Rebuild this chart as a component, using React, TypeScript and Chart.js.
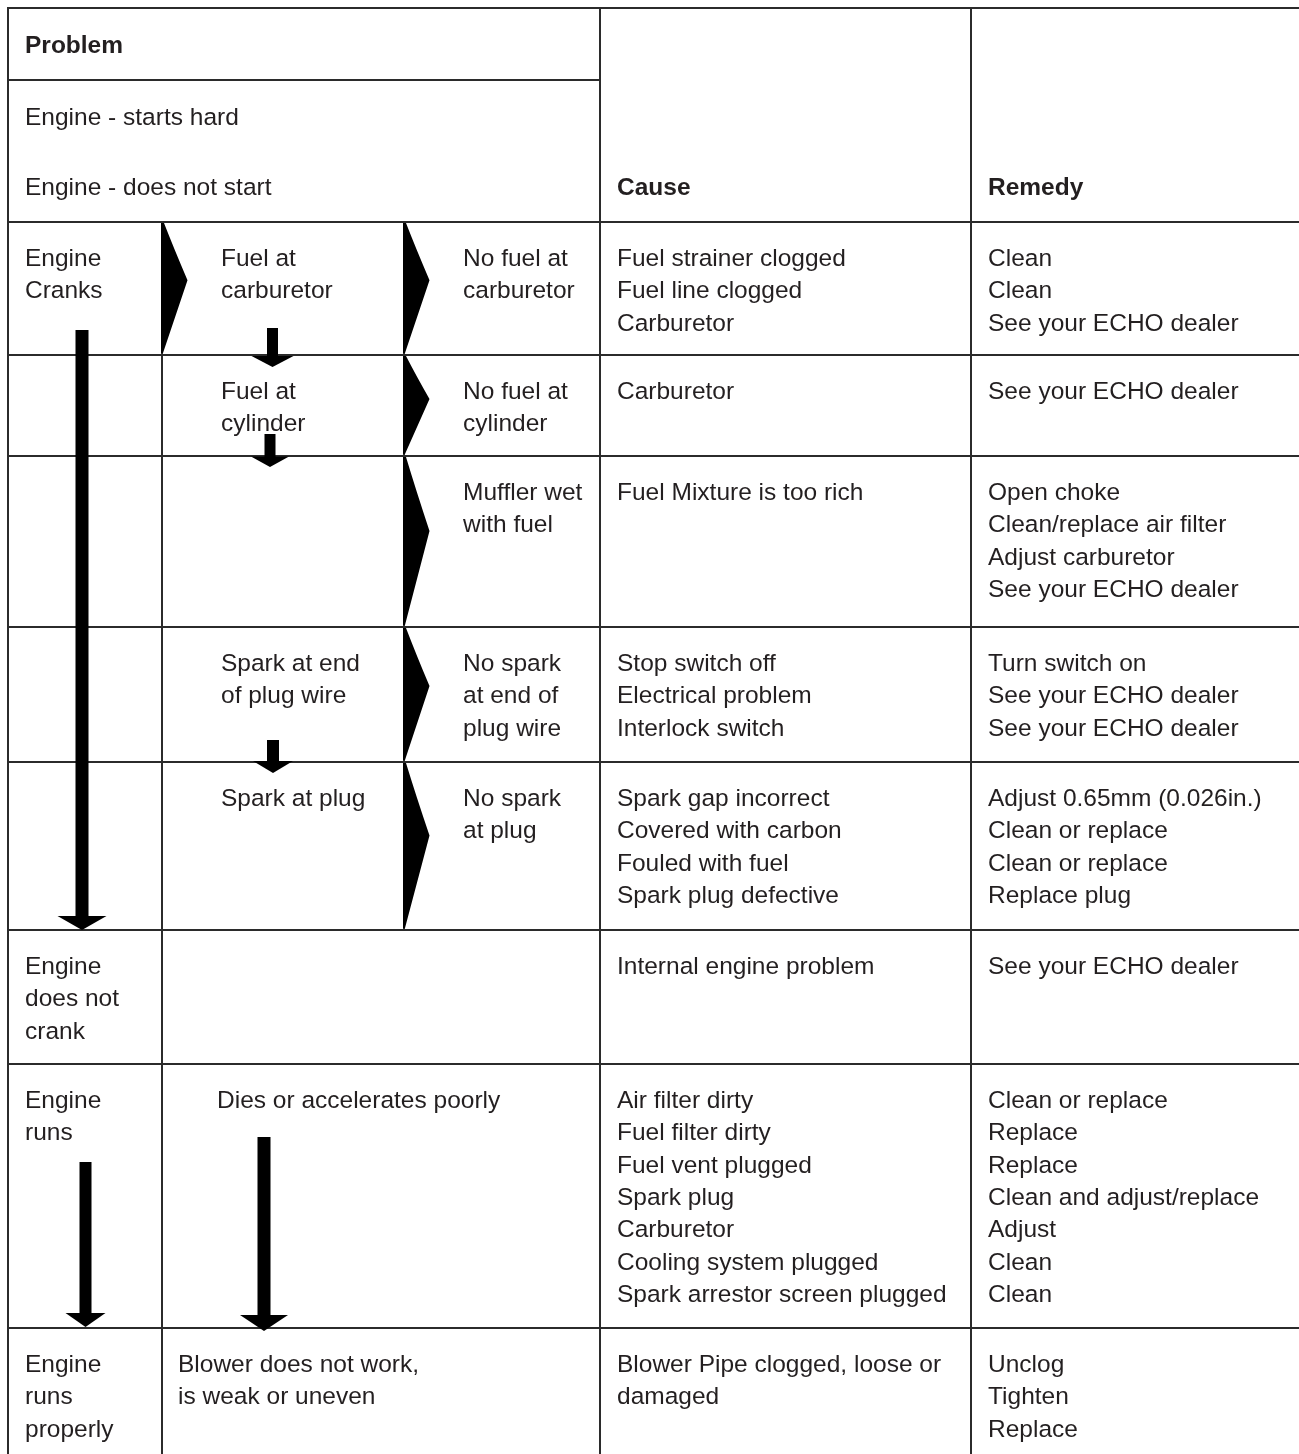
import React, { useEffect, useRef } from "react";
import { Chart, registerables } from "chart.js";

Chart.register(...registerables);

// ---------- data (text content) ----------
const problemHeader = "Problem";
const problemSubheaders = ["Engine - starts hard", "Engine - does not start"];
const causeHeader = "Cause";
const remedyHeader = "Remedy";

const conditions: string[][] = [
  ["Engine", "Cranks"],
  [],
  [],
  [],
  [],
  ["Engine", "does not", "crank"],
  ["Engine", "runs"],
  ["Engine", "runs", "properly"],
];

const checks: string[][] = [
  ["Fuel at", "carburetor"],
  ["Fuel at", "cylinder"],
  [],
  ["Spark at end", "of plug wire"],
  ["Spark at plug"],
  [],
  ["Dies or accelerates poorly"],
  ["Blower does not work,", "is weak or uneven"],
];

const symptoms: string[][] = [
  ["No fuel at", "carburetor"],
  ["No fuel at", "cylinder"],
  ["Muffler wet", "with fuel"],
  ["No spark", "at end of", "plug wire"],
  ["No spark", "at plug"],
  [],
  [],
  [],
];

const causes: string[][] = [
  ["Fuel strainer clogged", "Fuel line clogged", "Carburetor"],
  ["Carburetor"],
  ["Fuel Mixture is too rich"],
  ["Stop switch off", "Electrical problem", "Interlock switch"],
  ["Spark gap incorrect", "Covered with carbon", "Fouled with fuel", "Spark plug defective"],
  ["Internal engine problem"],
  [
    "Air filter dirty",
    "Fuel filter dirty",
    "Fuel vent plugged",
    "Spark plug",
    "Carburetor",
    "Cooling system plugged",
    "Spark arrestor screen plugged",
  ],
  ["Blower Pipe clogged, loose or", "damaged"],
];

const remedies: string[][] = [
  ["Clean", "Clean", "See your ECHO dealer"],
  ["See your ECHO dealer"],
  ["Open choke", "Clean/replace air filter", "Adjust carburetor", "See your ECHO dealer"],
  ["Turn switch on", "See your ECHO dealer", "See your ECHO dealer"],
  ["Adjust 0.65mm (0.026in.)", "Clean or replace", "Clean or replace", "Replace plug"],
  ["See your ECHO dealer"],
  ["Clean or replace", "Replace", "Replace", "Clean and adjust/replace", "Adjust", "Clean", "Clean"],
  ["Unclog", "Tighten", "Replace"],
];

// ---------- layout (positions in scale units) ----------
const W = 1299;
const H = 1454;
const COL_X = [8, 162, 404, 600, 971];
const HEADER_Y = [8, 80, 222];
const ROW_Y = [222, 355, 456, 627, 762, 930, 1064, 1328, 1454];
const TEXT_X = { cond: 25, check: 221, symptom: 463, cause: 617, remedy: 988 };
const CHECK_X_OVERRIDE: Record<number, number> = { 6: 217, 7: 178 };
const FIRST_BASELINE = 44;
const LINE_H = 32.3;
const FONT_SIZE = 24.5;
const INK = "#231f20";
const RULE = "#2b2b2b";

// chevrons: [column x, row index]
const CHEVRONS: [number, number][] = [
  [162, 0],
  [404, 0],
  [404, 1],
  [404, 2],
  [404, 3],
  [404, 4],
];

// arrows: x, shaftTop, headTop, tip, shaftW, headW
const ARROWS = [
  { x: 82, top: 330, headTop: 916, tip: 930, sw: 13, hw: 49 },
  { x: 272.5, top: 328, headTop: 356, tip: 367, sw: 11, hw: 42 },
  { x: 270, top: 434, headTop: 456.5, tip: 467, sw: 11, hw: 38 },
  { x: 273, top: 740, headTop: 761, tip: 773, sw: 12, hw: 40 },
  { x: 85.5, top: 1162, headTop: 1313, tip: 1327, sw: 12, hw: 40 },
  { x: 264, top: 1137, headTop: 1315, tip: 1331, sw: 13, hw: 48 },
];

const tablePlugin = {
  id: "troubleTable",
  afterDraw(chart: any) {
    const ctx: CanvasRenderingContext2D = chart.ctx;
    const xs = chart.scales.x;
    const ys = chart.scales.y;
    const px = (v: number) => xs.getPixelForValue(v);
    const py = (v: number) => ys.getPixelForValue(v);

    ctx.save();
    ctx.fillStyle = "#ffffff";
    ctx.fillRect(0, 0, chart.width, chart.height);

    // rules
    ctx.strokeStyle = RULE;
    ctx.lineWidth = 2;
    const hLine = (y: number, x0: number, x1: number) => {
      ctx.beginPath();
      ctx.moveTo(px(x0), py(y));
      ctx.lineTo(px(x1), py(y));
      ctx.stroke();
    };
    const vLine = (x: number, y0: number, y1: number) => {
      ctx.beginPath();
      ctx.moveTo(px(x), py(y0));
      ctx.lineTo(px(x), py(y1));
      ctx.stroke();
    };
    hLine(HEADER_Y[0], COL_X[0] - 1, W);
    hLine(HEADER_Y[1], COL_X[0], COL_X[3]);
    ROW_Y.slice(0, -1).forEach((y) => hLine(y, COL_X[0], W));
    vLine(COL_X[0], HEADER_Y[0] - 1, H);
    vLine(COL_X[1], ROW_Y[0], H);
    vLine(COL_X[2], ROW_Y[0], ROW_Y[5]);
    vLine(COL_X[3], HEADER_Y[0], H);
    vLine(COL_X[4], HEADER_Y[0], H);

    // chevrons
    ctx.fillStyle = "#000";
    CHEVRONS.forEach(([cx, r]) => {
      const top = ROW_Y[r] + 1;
      const bot = ROW_Y[r + 1] - 2;
      const peakY = top + (bot - top) * 0.44;
      ctx.beginPath();
      ctx.moveTo(px(cx - 1), py(top));
      ctx.lineTo(px(cx + 2), py(top));
      ctx.quadraticCurveTo(px(cx + 12), py(top + (peakY - top) * 0.45), px(cx + 25.5), py(peakY));
      ctx.lineTo(px(cx + 1), py(bot));
      ctx.lineTo(px(cx - 1), py(bot));
      ctx.closePath();
      ctx.fill();
    });

    // arrows
    ARROWS.forEach((a) => {
      ctx.fillRect(px(a.x - a.sw / 2), py(a.top), px(a.x + a.sw / 2) - px(a.x - a.sw / 2), py(a.headTop + 1) - py(a.top));
      ctx.beginPath();
      ctx.moveTo(px(a.x - a.hw / 2), py(a.headTop));
      ctx.lineTo(px(a.x + a.hw / 2), py(a.headTop));
      ctx.lineTo(px(a.x), py(a.tip));
      ctx.closePath();
      ctx.fill();
    });

    // text
    ctx.fillStyle = INK;
    ctx.textBaseline = "alphabetic";
    ctx.textAlign = "left";
    const regular = `${FONT_SIZE}px "Liberation Sans", Arial, Helvetica, sans-serif`;
    const bold = `bold ${FONT_SIZE}px "Liberation Sans", Arial, Helvetica, sans-serif`;
    const write = (lines: string[], x: number, firstBaseline: number) => {
      lines.forEach((t, i) => ctx.fillText(t, px(x), py(firstBaseline + i * LINE_H)));
    };

    ctx.font = bold;
    ctx.fillText(problemHeader, px(TEXT_X.cond), py(53));
    ctx.fillText(causeHeader, px(TEXT_X.cause), py(195));
    ctx.fillText(remedyHeader, px(TEXT_X.remedy), py(195));
    ctx.font = regular;
    ctx.fillText(problemSubheaders[0], px(TEXT_X.cond), py(125));
    ctx.fillText(problemSubheaders[1], px(TEXT_X.cond), py(195));

    for (let r = 0; r < conditions.length; r++) {
      const base = ROW_Y[r] + FIRST_BASELINE;
      write(conditions[r], TEXT_X.cond, base);
      write(checks[r], CHECK_X_OVERRIDE[r] ?? TEXT_X.check, base);
      write(symptoms[r], TEXT_X.symptom, base);
      write(causes[r], TEXT_X.cause, base);
      write(remedies[r], TEXT_X.remedy, base);
    }
    ctx.restore();
  },
};

export default function App() {
  const ref = useRef<HTMLCanvasElement | null>(null);
  useEffect(() => {
    if (!ref.current) return;
    const chart = new Chart(ref.current, {
      type: "scatter",
      data: { datasets: [] },
      options: {
        animation: false,
        responsive: false,
        maintainAspectRatio: false,
        devicePixelRatio: 1,
        layout: { padding: 0 },
        events: [],
        plugins: { legend: { display: false }, tooltip: { enabled: false } },
        scales: {
          x: { type: "linear", min: 0, max: W, display: false },
          y: { type: "linear", min: 0, max: H, reverse: true, display: false },
        },
      },
      plugins: [tablePlugin],
    });
    return () => chart.destroy();
  }, []);
  return (
    <div style={{ position: "absolute", left: 0, top: 0, width: W, height: H, background: "#fff" }}>
      <canvas ref={ref} width={W} height={H} style={{ display: "block" }} />
    </div>
  );
}
